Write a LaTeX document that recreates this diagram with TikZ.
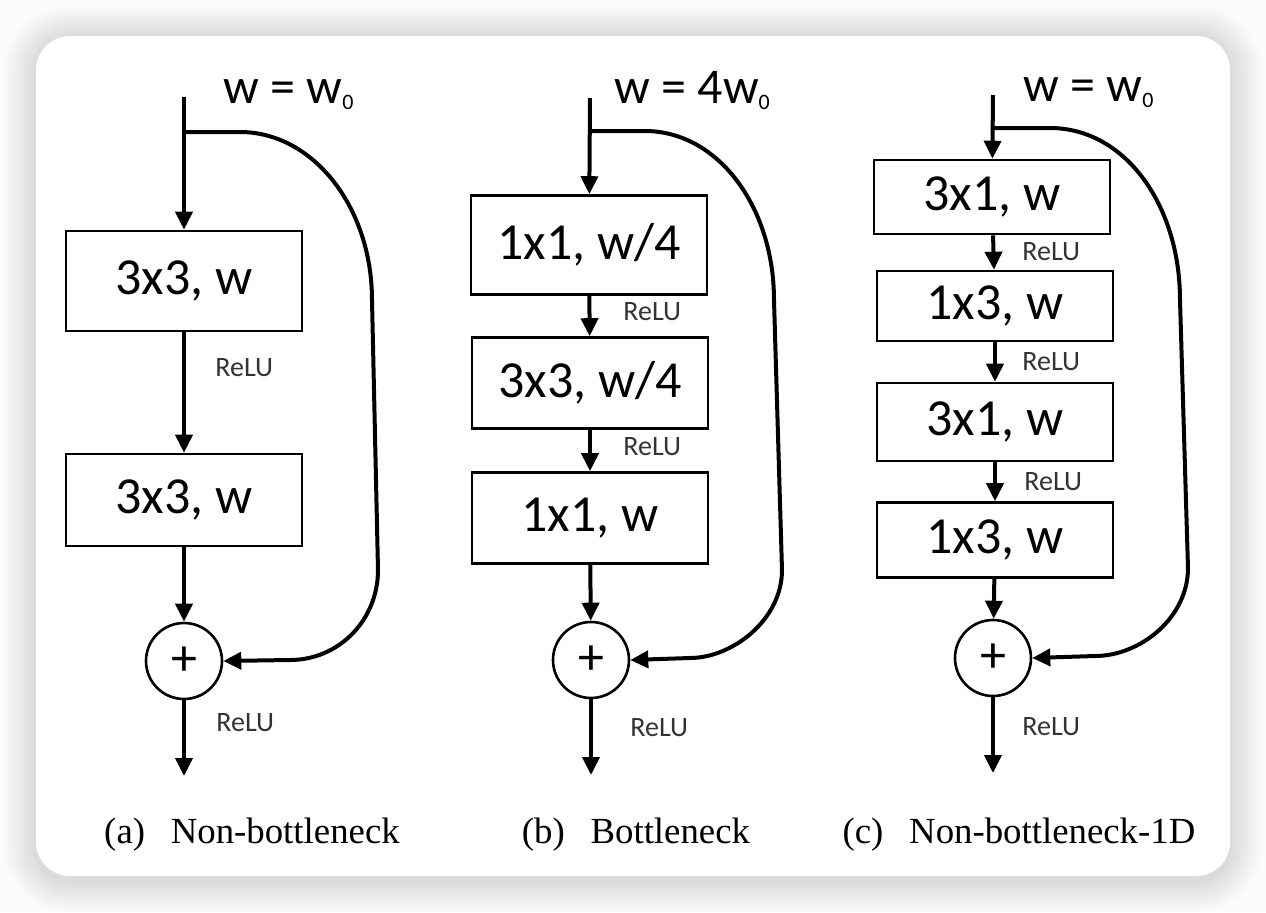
\documentclass[tikz,border=0pt]{standalone}
\usepackage{fontspec}
\setmainfont{Liberation Serif}
\newfontfamily\calib{Carlito}
\usetikzlibrary{arrows.meta}

\newcommand{\wsub}[1]{\raisebox{-3pt}{\fontsize{11}{11}\selectfont #1}}

\tikzset{
  conv/.style={draw, line width=1.3pt, inner sep=0pt, minimum width=118pt,
    font=\calib\fontsize{26}{26}\selectfont},
  plus/.style={draw, circle, line width=1.3pt, minimum size=38pt, inner sep=0pt,
    font=\calib\fontsize{26}{26}\selectfont},
  relu/.style={anchor=west, inner sep=0pt, text=black!80,
    font=\calib\fontsize{14}{14}\selectfont},
  width/.style={anchor=base west, inner sep=0pt,
    font=\calib\fontsize{25}{25}\selectfont},
  caption/.style={anchor=base, inner sep=0pt, font=\fontsize{18.4}{18.4}\selectfont},
  flow/.style={line width=2pt, -{Triangle[length=9pt,width=8.5pt]}},
  skip/.style={line width=2pt, -{Triangle[length=9pt,width=8.5pt]}}
}

\begin{document}
\begin{tikzpicture}[x=0.5pt,y=-0.5pt]
\useasboundingbox (0,0) rectangle (1266,912);
\fill[gray!3] (0,0) rectangle (1266,912);
% soft shadow round the card
\foreach \i in {1,...,16}
  \fill[black, opacity=0.007, rounded corners={17pt+\i pt}]
    (36-2*\i,38-2*\i) rectangle (1230+2*\i,880+2*\i);
\fill[white, rounded corners=17pt] (36,36) rectangle (1230,876);

%% (a) non-bottleneck
\coordinate (ain) at (184,97);
\coordinate (asplit) at (184,132);
\coordinate (aout) at (184,776);
\node[conv, minimum height=50pt] (a1) at (184,281) {3x3, w};
\node[conv, minimum height=46pt] (a2) at (184,500) {3x3, w};
\node[plus] (aplus) at (184,661) {+};
\node[width] at (223,103) {w = w\wsub{0}};
\node[relu] at (215,368) {ReLU};
\node[relu] at (216,723) {ReLU};
\draw[flow] (ain) -- (a1);
\draw[flow] (a1) -- (a2);
\draw[flow] (a2) -- (aplus);
\draw[flow] (aplus) -- (aout);
\draw[skip] (asplit) -- (240,132) .. controls (313,132) and (372,207) .. (372,300)
  -- (378,570) .. controls (378,620) and (339,660) .. (290,660) -- (aplus.east);
\node[caption] at (252,843) {(a)\hspace{0.7em}Non-bottleneck};

%% (b) bottleneck
\coordinate (bin) at (590,98);
\coordinate (bsplit) at (590,131);
\coordinate (bout) at (591,775);
\node[conv, minimum height=49.5pt] (b1) at (589,245) {1x1, w/4};
\node[conv, minimum height=45.5pt] (b2) at (590,383) {3x3, w/4};
\node[conv, minimum height=45.5pt] (b3) at (590,518) {1x1, w};
\node[plus] (bplus) at (591,660) {+};
\node[width] at (614,103) {w = 4w\wsub{0}};
\node[relu] at (623,312) {ReLU};
\node[relu] at (623,447) {ReLU};
\node[relu] at (630,728) {ReLU};
\draw[flow] (bin) -- (b1);
\draw[flow] (b1) -- (b2);
\draw[flow] (b2) -- (b3);
\draw[flow] (b3) -- (bplus);
\draw[flow] (bplus) -- (bout);
\draw[skip] (bsplit) -- (645,131) .. controls (718,131) and (774,207) .. (774,300)
  -- (782,570) .. controls (782,620) and (732,658) .. (690,658) -- (bplus.east);
\node[caption] at (636,843) {(b)\hspace{0.7em}Bottleneck};

%% (c) non-bottleneck-1D
\coordinate (cin) at (993,95);
\coordinate (csplit) at (993,128);
\coordinate (cout) at (993,773);
\node[conv, minimum height=37pt] (c1) at (992,197) {3x1, w};
\node[conv, minimum height=35pt] (c2) at (995,306) {1x3, w};
\node[conv, minimum height=39pt] (c3) at (995,422) {3x1, w};
\node[conv, minimum height=37.5pt] (c4) at (995,540) {1x3, w};
\node[plus] (cplus) at (993,658) {+};
\node[width] at (1023,101) {w = w\wsub{0}};
\node[relu] at (1022,252) {ReLU};
\node[relu] at (1022,362) {ReLU};
\node[relu] at (1024,482) {ReLU};
\node[relu] at (1022,727) {ReLU};
\draw[flow] (cin) -- (c1);
\draw[flow] (c1) -- (c2);
\draw[flow] (c2) -- (c3);
\draw[flow] (c3) -- (c4);
\draw[flow] (c4) -- (cplus);
\draw[flow] (cplus) -- (cout);
\draw[skip] (csplit) -- (1050,128) .. controls (1125,128) and (1180,205) .. (1180,300)
  -- (1188,568) .. controls (1188,618) and (1140,656) .. (1095,656) -- (cplus.east);
\node[caption] at (1019,843) {(c)\hspace{0.7em}Non-bottleneck-1D};
\end{tikzpicture}
\end{document}
